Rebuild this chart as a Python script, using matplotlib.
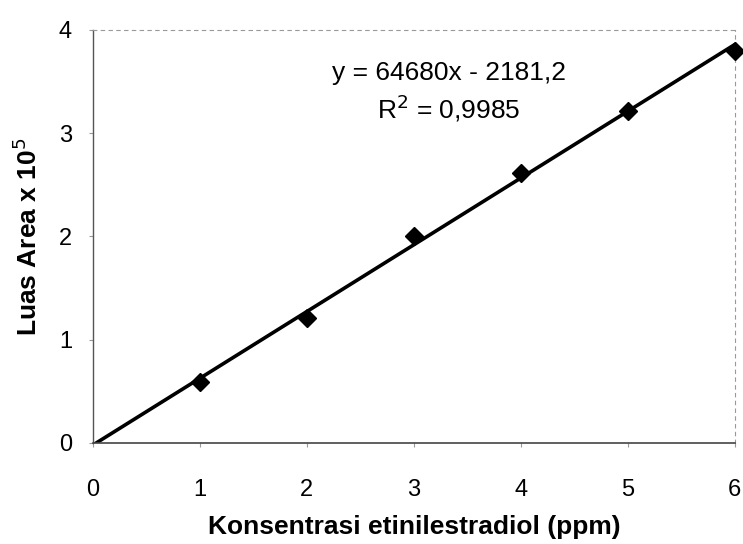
import numpy as np
import matplotlib.pyplot as plt

plt.rcParams['font.family'] = ['Liberation Sans', 'DejaVu Sans']

# Datos de la curva de calibración (luas area x 10^5)
konsentrasi = [1, 2, 3, 4, 5, 6]
luas_area = [0.59, 1.21, 2.00, 2.61, 3.21, 3.80]

# Coeficientes de la regresión mostrados en el gráfico
slope = 64680
intercept = -2181.2
r2_text = "R$^2$ = 0,9985"
eq_text = "y = 64680x - 2181,2"

fig = plt.figure(figsize=(7.43, 5.44), dpi=100)
ax = fig.add_axes([0.125, 0.186, 0.864, 0.759])

# Línea de tendencia
x_fit = np.array([0, 6])
y_fit = (slope * x_fit + intercept) / 1e5
ax.plot(x_fit, y_fit, color='black', linewidth=2.6, zorder=2)

# Puntos
ax.plot(konsentrasi, luas_area, linestyle='none', marker='D', markersize=9,
        color='black', zorder=3, clip_on=False)

ax.set_xlim(0, 6)
ax.set_ylim(0, 4)
ax.set_xticks(range(0, 7))
ax.set_yticks(range(0, 5))
ax.tick_params(labelsize=17, length=3, color='#999999', pad=12)
ax.tick_params(axis='x', pad=23)

ax.text(3.33, 3.58, eq_text, ha='center', va='center', fontsize=19)
ax.text(3.33, 3.24, r2_text, ha='center', va='center', fontsize=19)

ax.set_xlabel('Konsentrasi etinilestradiol (ppm)', fontsize=19, fontweight='bold', labelpad=10)
ax.set_ylabel('Luas Area x 10$^5$', fontsize=19, fontweight='bold', labelpad=12)

# Bordes como en el gráfico escaneado
ax.spines['left'].set_linestyle((0, (2, 1)))
ax.spines['left'].set_color('#555555')
ax.spines['left'].set_linewidth(1.0)
ax.spines['bottom'].set_color('#444444')
ax.spines['bottom'].set_linewidth(1.2)
for side in ['top', 'right']:
    ax.spines[side].set_linestyle((0, (3, 4)))
    ax.spines[side].set_color('#999999')
    ax.spines[side].set_linewidth(0.8)

fig.savefig('out.png', dpi=100)
